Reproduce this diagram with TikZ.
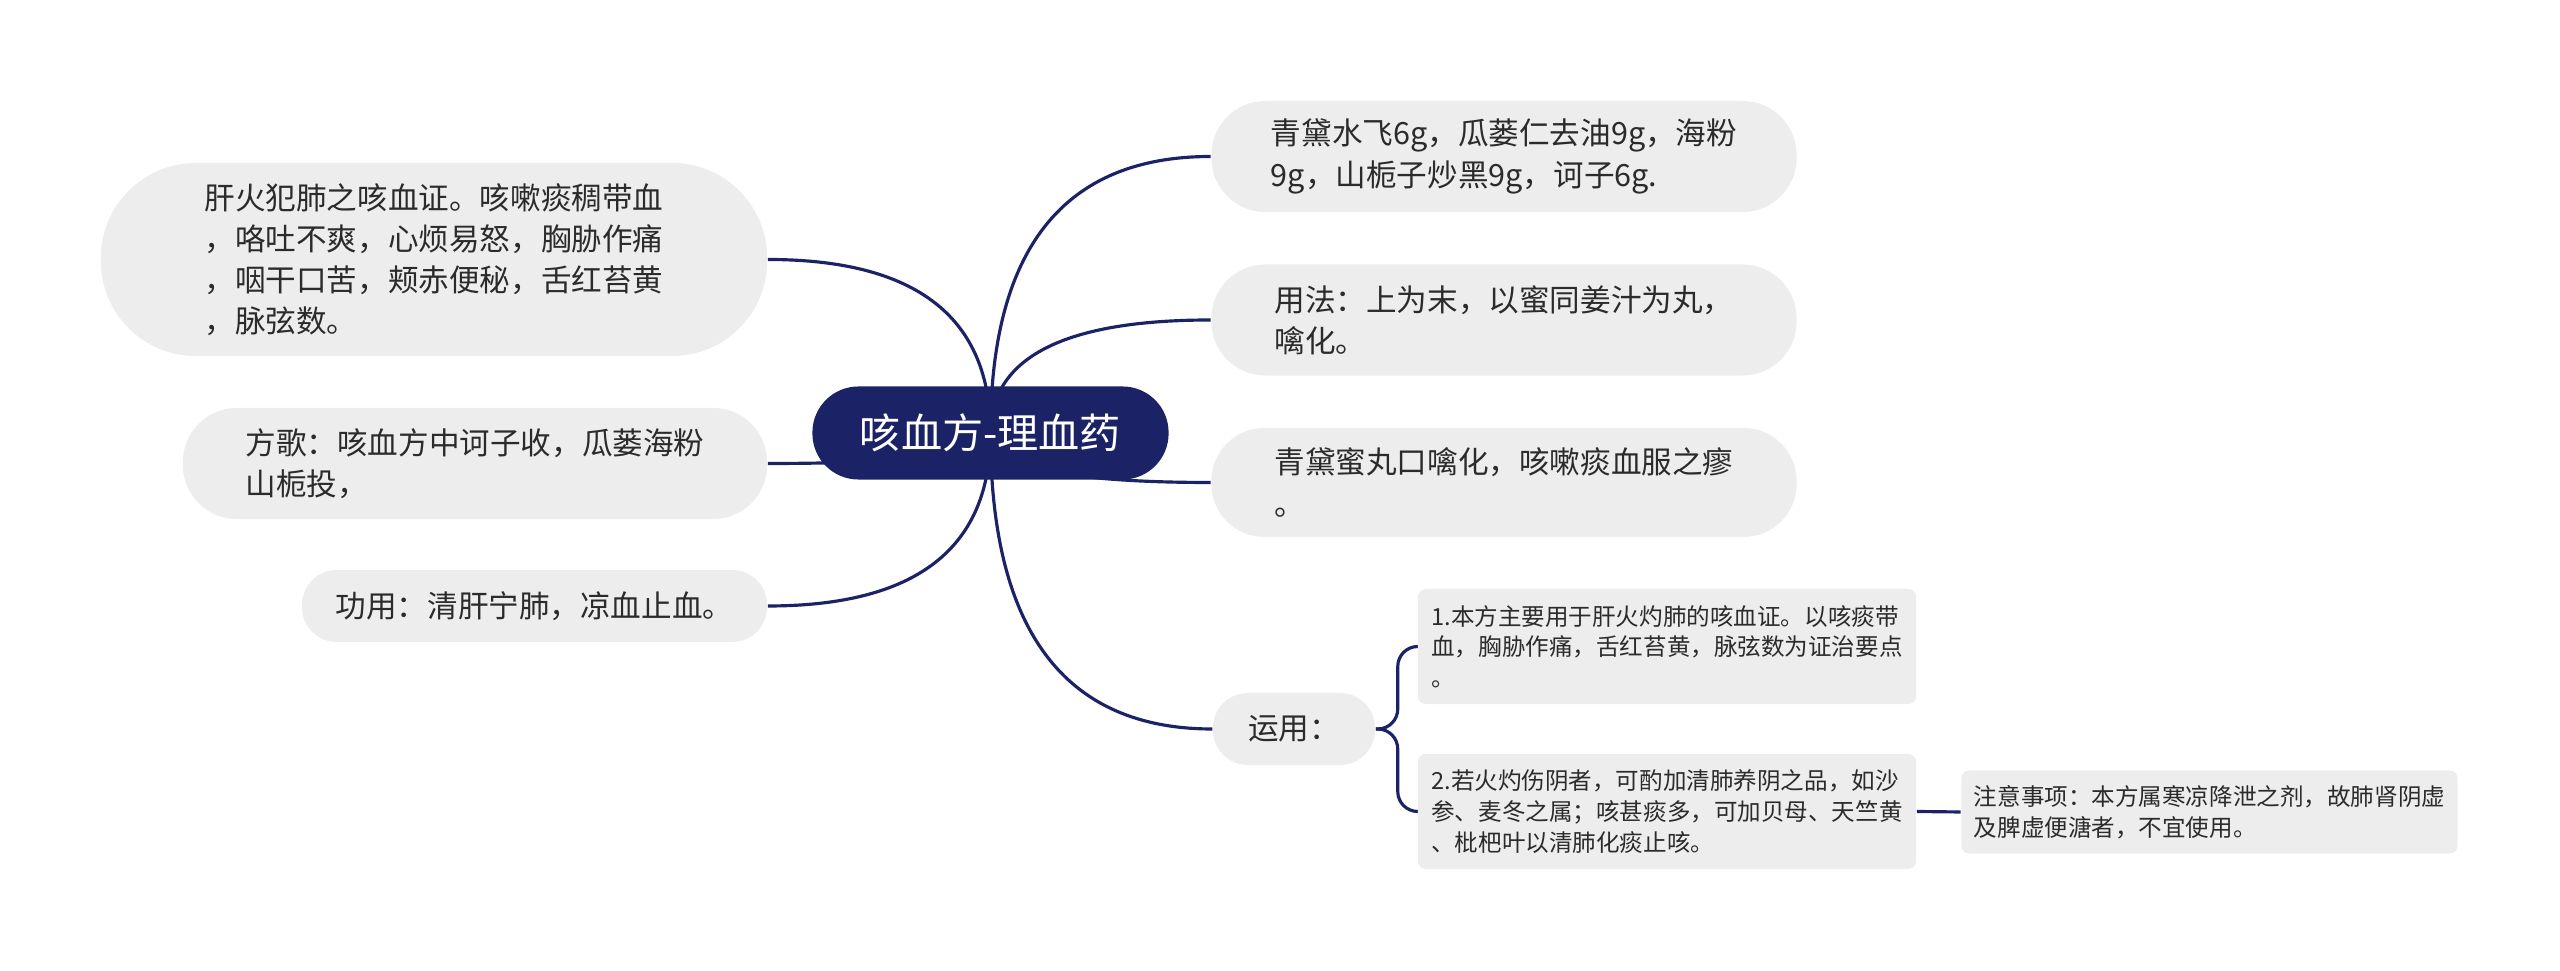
\documentclass[tikz,border=0pt]{standalone}
\usepackage{fontspec}
\newfontfamily\cjk{Noto Sans CJK SC}
\usetikzlibrary{calc,backgrounds}
\definecolor{navy}{HTML}{1B2366}
\definecolor{bubble}{HTML}{EDEDED}
\definecolor{ink}{HTML}{2B2B2B}
\tikzset{
  topic/.style={fill=navy,text=white,inner sep=0pt,rounded corners=0.46cm,
    minimum width=3.56cm,minimum height=0.93cm,font=\cjk\fontsize{11.7}{14}\selectfont},
  leaf/.style={fill=bubble,text=ink,align=left,inner sep=0pt,
    font=\cjk\fontsize{8.7}{11.7}\selectfont},
  note/.style={fill=bubble,text=ink,align=left,inner sep=0pt,rounded corners=0.08cm,
    minimum width=4.98cm,font=\cjk\fontsize{6.7}{8.7}\selectfont},
  link/.style={draw=navy,line width=0.9pt}
}

\begin{document}
\begin{tikzpicture}[x=0.01cm,y=-0.01cm]
 % \draw[thin,gray!40] (0,0) grid[step=100] (2560,971);
  \useasboundingbox (0,0) rectangle (2560,971);
  \node[topic] (root) at (990.5,433) {咳血方-理血药};
  \node[leaf,minimum width=6.66cm,minimum height=1.93cm,rounded corners=0.95cm] (l1) at (434,259.5)
    {肝火犯肺之咳血证。咳嗽痰稠带血\\，咯吐不爽，心烦易怒，胸胁作痛\\，咽干口苦，颊赤便秘，舌红苔黄\\，脉弦数。};
  \node[leaf,minimum width=5.84cm,minimum height=1.11cm,rounded corners=0.54cm] (l2) at (475,463.5)
    {方歌：咳血方中诃子收，瓜蒌海粉\\山栀投，};
  \node[leaf,minimum width=4.65cm,minimum height=0.72cm,rounded corners=0.35cm] (l3) at (534.5,606)
    {功用：清肝宁肺，凉血止血。};
  \node[leaf,minimum width=5.85cm,minimum height=1.11cm,rounded corners=0.54cm] (r1) at (1504,156.5)
    {青黛水飞6g，瓜蒌仁去油9g，海粉\\9g，山栀子炒黑9g，诃子6g.};
  \node[leaf,minimum width=5.85cm,minimum height=1.11cm,rounded corners=0.54cm] (r2) at (1504,320)
    {用法：上为末，以蜜同姜汁为丸，\\噙化。};
  \node[leaf,minimum width=5.85cm,minimum height=1.09cm,rounded corners=0.53cm] (r3) at (1504,482.5)
    {青黛蜜丸口噙化，咳嗽痰血服之瘳\\。};
  \node[leaf,minimum width=1.62cm,minimum height=0.72cm,rounded corners=0.35cm] (yy) at (1294,729)
    {运用：};
  \node[note,minimum height=1.15cm] (s1) at (1667,646.5)
    {1.本方主要用于肝火灼肺的咳血证。以咳痰带\\血，胸胁作痛，舌红苔黄，脉弦数为证治要点\\。};
  \node[note,minimum height=1.15cm] (s2) at (1667,811.5)
    {2.若火灼伤阴者，可酌加清肺养阴之品，如沙\\参、麦冬之属；咳甚痰多，可加贝母、天竺黄\\、枇杷叶以清肺化痰止咳。};
  \node[note,minimum width=4.96cm,minimum height=0.83cm] (s3) at (2209.5,812)
    {注意事项：本方属寒凉降泄之剂，故肺肾阴虚\\及脾虚便溏者，不宜使用。};
  \begin{pgfonlayer}{background}
    \foreach \n in {r1,r2,r3,yy}
      \draw[link] (root.center) .. controls ($(root.center)!.667!(root.center|-\n.west)$)
        and ($(\n.west)!.667!(root.center|-\n.west)$) .. (\n.west);
    \foreach \n in {l1,l2,l3}
      \draw[link] (root.center) .. controls ($(root.center)!.667!(root.center|-\n.east)$)
        and ($(\n.east)!.667!(root.center|-\n.east)$) .. (\n.east);
    \draw[link,rounded corners=0.2cm] (yy.east) -- ++(22,0) |- (s1.west);
    \draw[link,rounded corners=0.2cm] (yy.east) -- ++(22,0) |- (s2.west);
    \draw[link] (s2.east) -- (s3.west);
  \end{pgfonlayer}
\end{tikzpicture}
\end{document}
